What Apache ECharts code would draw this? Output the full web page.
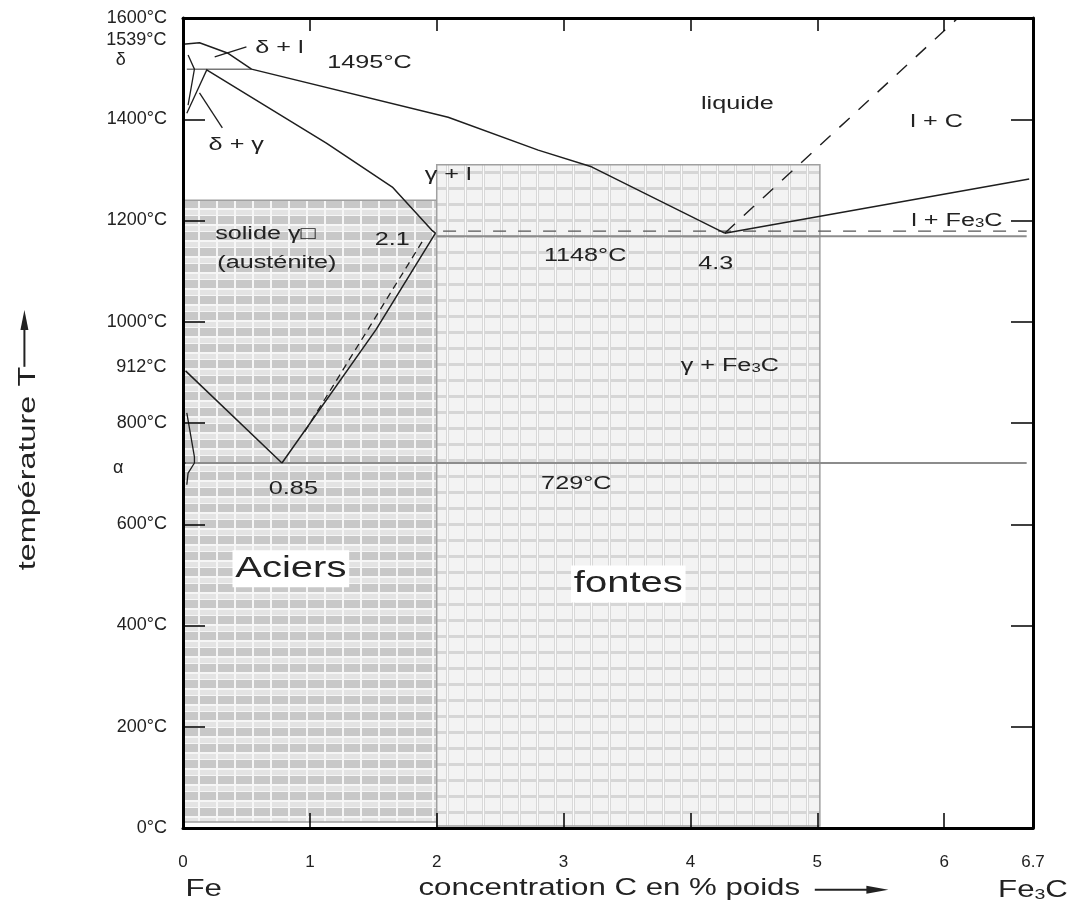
<!DOCTYPE html>
<html><head><meta charset="utf-8">
<script src="https://cdn.jsdelivr.net/npm/echarts@6/dist/echarts.min.js"></script>
<style>html,body{margin:0;padding:0;background:#fff}#c{width:1078px;height:911px}</style>
</head><body><div id="c"></div>
<script>
// ---------- data (C in wt%, T in °C) ----------
const xTicks = [0, 1, 2, 3, 4, 5, 6, 6.7];
const yTicks = [0, 200, 400, 600, 800, 1000, 1200, 1400, 1600];
const liquidus = [[0, 1548], [0.13, 1551], [0.35, 1531], [0.54, 1499], [2.09, 1404], [2.80, 1339], [3.22, 1306], [4.27, 1175]];
const solidusGamma = [[0.19, 1497], [1.13, 1353], [1.65, 1266], [1.96, 1181], [1.99, 1175]];
const acmLine = [[0.78, 721], [1.52, 984], [1.99, 1175]];
const acmGraphite = [[0.96, 783], [1.89, 1160]];
const a3Line = [[0.02, 903], [0.78, 721]];
const liquidusFe3C = [[4.27, 1175], [6.67, 1282]];
const liquidusGraphite = [[4.27, 1175], [6.10, 1598]];
const peritectic = [[0.03, 1499], [0.54, 1499]];
const eutecticLine = [[2.0, 1169], [6.65, 1169]];
const eutecticGraphite = [[2.05, 1179], [6.65, 1179]];
const eutectoidLine = [[0, 721], [6.65, 721]];
const deltaLoop = [[0.04, 1527], [0.09, 1499], [0.04, 1428]];
const gammaDelta = [[0.19, 1499], [0.03, 1412]];
const alphaCurve = [[0.03, 820], [0.09, 733], [0.09, 721], [0.04, 701], [0.03, 678]];
const ptrDelta = [[-0.35, 1501], [0, 1493]];
const ptrDeltaL = [[0.25, 1523], [0.50, 1543]];
const ptrDeltaGamma = [[0.13, 1452], [0.31, 1383]];
const ptrAlpha = [[-0.42, 711], [0.02, 721]];
const aciersRange = [[0, 12], [2.0, 1240]];
const fontesRange = [[2.0, 4], [5.02, 1310]];

// text annotations anchored in data coordinates
const annotations = [
  { text: '1495°C', c: 1.47, t: 1511 },
  { text: 'δ + l', c: 0.76, t: 1541 },
  { text: 'δ + γ', c: 0.42, t: 1349 },
  { text: 'liquide', c: 4.37, t: 1430 },
  { text: 'l + C', c: 5.94, t: 1395 },
  { text: '{n|l + Fe}{s|3}{n|C}', c: 6.10, t: 1199 },
  { text: 'γ + l', c: 2.09, t: 1290 },
  { text: '1148°C', c: 3.17, t: 1130 },
  { text: '4.3', c: 4.20, t: 1114 },
  { text: '2.1', c: 1.65, t: 1161 },
  { text: 'solide γ□', c: 0.65, t: 1173 },
  { text: '(austénite)', c: 0.74, t: 1116 },
  { text: '{n|γ + Fe}{s|3}{n|C}', c: 4.31, t: 913 },
  { text: '0.85', c: 0.87, t: 670 },
  { text: '729°C', c: 3.10, t: 680 }
];
const bigLabels = [
  { text: 'Aciers', c: 0.85, t: 512 },
  { text: 'fontes', c: 3.51, t: 482 }
];
const sideLabels = [
  { text: '1539°C', c: -0.13, t: 1557, align: 'right' },
  { text: 'δ', c: -0.49, t: 1517, align: 'center' },
  { text: '912°C', c: -0.13, t: 911, align: 'right' },
  { text: 'α', c: -0.51, t: 711, align: 'center' }
];

// ---------- styles ----------
const FONT = '"Liberation Sans", Arial, Helvetica, sans-serif';
const INK = '#222';

function makePattern(kind) {
  const cv = document.createElement('canvas');
  cv.width = 18; cv.height = 16;
  const g = cv.getContext('2d');
  if (kind === 'aciers') {
    g.fillStyle = '#f6f6f6'; g.fillRect(0, 0, 18, 16);
    g.fillStyle = '#e3e3e3'; g.fillRect(2, 2, 16, 5);
    g.fillStyle = '#c8c8c8'; g.fillRect(2, 8, 16, 8);
  } else {
    g.fillStyle = '#f3f3f3'; g.fillRect(0, 0, 18, 16);
    g.fillStyle = '#d6d6d6'; g.fillRect(0, 11, 18, 3);
    g.fillStyle = '#d8d8d8'; g.fillRect(14, 0, 3, 16);
    g.fillStyle = '#fbfbfb'; g.fillRect(15, 0, 1, 16);
  }
  return cv;
}

function lineSeries(data, opt) {
  opt = opt || {};
  return {
    type: 'line', data: data, symbol: 'none', silent: true, clip: false,
    animation: false, z: opt.z || 5,
    lineStyle: { color: opt.color || '#1e1e1e', width: opt.width || 1.5, type: opt.type || 'solid' }
  };
}

const chart = echarts.init(document.getElementById('c'), null, { renderer: 'canvas' });

const axisLineStyle = { show: true, onZero: false, lineStyle: { color: '#000', width: 3 } };
const tickStyle = { color: '#000', width: 1.5 };
const option = {
  animation: false,
  backgroundColor: '#fff',
  grid: { left: 183, right: 45, top: 18, bottom: 83 },
  xAxis: [
    { type: 'value', position: 'bottom', min: 0, max: 6.7, interval: 1, z: 10,
      axisLine: axisLineStyle, splitLine: { show: false },
      axisTick: { show: true, inside: true, length: 15, lineStyle: tickStyle },
      axisLabel: { margin: 26, fontSize: 17, fontFamily: FONT, color: INK, showMaxLabel: true, showMinLabel: true,
        formatter: function (v) { return xTicks.indexOf(+v.toFixed(1)) >= 0 ? String(+v.toFixed(1)) : ''; } } },
    { type: 'value', position: 'top', min: 0, max: 6.7, interval: 1, z: 10,
      axisLine: axisLineStyle, splitLine: { show: false },
      axisTick: { show: true, inside: true, length: 13, lineStyle: tickStyle },
      axisLabel: { show: false } }
  ],
  yAxis: [
    { type: 'value', position: 'left', min: 0, max: 1600, interval: 200, z: 10,
      axisLine: axisLineStyle, splitLine: { show: false },
      axisTick: { show: true, inside: true, length: 22, lineStyle: tickStyle },
      axisLabel: { margin: 16, fontSize: 18, fontFamily: FONT, color: INK,
        formatter: function (v) { return yTicks.indexOf(v) >= 0 ? v + '°C' : ''; } } },
    { type: 'value', position: 'right', min: 0, max: 1600, interval: 200, z: 10,
      axisLine: axisLineStyle, splitLine: { show: false },
      axisTick: { show: true, inside: true, length: 22, lineStyle: tickStyle },
      axisLabel: { show: false } }
  ],
  series: [
    {
      type: 'line', data: [], silent: true, z: 1,
      markArea: {
        silent: true,
        data: [
          [{ coord: aciersRange[0], itemStyle: { color: { image: makePattern('aciers'), repeat: 'repeat' }, borderColor: '#a0a0a0', borderWidth: 1.5 } },
           { coord: aciersRange[1] }],
          [{ coord: fontesRange[0], itemStyle: { color: { image: makePattern('fontes'), repeat: 'repeat' }, borderColor: '#a0a0a0', borderWidth: 1.5 } },
           { coord: fontesRange[1] }]
        ]
      }
    },
    lineSeries(eutectoidLine, { color: '#8c8c8c', width: 2, z: 3 }),
    lineSeries(eutecticLine, { color: '#8c8c8c', width: 2, z: 3 }),
    lineSeries(eutecticGraphite, { color: '#555', width: 1.3, type: [13, 12], z: 3 }),
    lineSeries(peritectic, { color: '#777', width: 1.5, z: 3 }),
    lineSeries(liquidus),
    lineSeries(solidusGamma),
    lineSeries(acmLine),
    lineSeries(acmGraphite, { type: [7, 5], width: 1.3 }),
    lineSeries(a3Line),
    lineSeries(liquidusFe3C),
    lineSeries(liquidusGraphite, { type: [14, 12], width: 1.4 }),
    lineSeries(deltaLoop, { width: 1.3 }),
    lineSeries(gammaDelta, { width: 1.3 }),
    lineSeries(alphaCurve, { width: 1.3 }),
    lineSeries(ptrDelta, { width: 1.3 }),
    lineSeries(ptrDeltaL, { width: 1.3 }),
    lineSeries(ptrDeltaGamma, { width: 1.3 }),
    lineSeries(ptrAlpha, { width: 1.3 })
  ]
};
chart.setOption(option);

function px(c, t) { return chart.convertToPixel({ xAxisIndex: 0, yAxisIndex: 0 }, [c, t]); }
const rich = {
  n: { fontSize: 18, fontFamily: FONT, color: INK },
  s: { fontSize: 12, fontFamily: FONT, color: INK, verticalAlign: 'bottom' }
};
function textEl(a, size, sx, extra) {
  const p = px(a.c, a.t);
  return {
    type: 'text', x: p[0], y: p[1], scaleX: sx, z: 100, silent: true,
    style: Object.assign({
      text: a.text, font: size + 'px ' + FONT, fill: INK,
      align: a.align || 'center', verticalAlign: 'middle',
      textAlign: a.align || 'center', textVerticalAlign: 'middle', rich: rich
    }, extra || {})
  };
}
const gfx = [];
annotations.forEach(a => gfx.push(textEl(a, 18, 1.4)));
bigLabels.forEach(a => gfx.push(textEl(a, 29, 1.38, { backgroundColor: '#fff', padding: [4, 2, 4, 2] })));
sideLabels.forEach(a => gfx.push(textEl(a, 18, 1.0)));

// axis names
const xName = px(3.36, -120);
gfx.push({ type: 'text', x: xName[0], y: xName[1], scaleX: 1.3, z: 100, silent: true,
  style: { text: 'concentration C en % poids', font: '24px ' + FONT, fill: INK, align: 'center', verticalAlign: 'middle' } });
const a0 = px(4.98, -122), a1 = px(5.56, -122);
gfx.push({ type: 'line', z: 100, silent: true, shape: { x1: a0[0], y1: a0[1], x2: a1[0] - 16, y2: a1[1] }, style: { stroke: INK, lineWidth: 2 } });
gfx.push({ type: 'polygon', z: 100, silent: true, shape: { points: [[a1[0] - 22, a1[1] - 4], [a1[0], a1[1]], [a1[0] - 22, a1[1] + 4]] }, style: { fill: INK } });
const fe = px(0.02, -122);
gfx.push({ type: 'text', x: fe[0], y: fe[1], scaleX: 1.3, z: 100, silent: true,
  style: { text: 'Fe', font: '24px ' + FONT, fill: INK, align: 'left', verticalAlign: 'middle' } });
const fe3c = px(6.70, -124);
gfx.push({ type: 'text', x: fe3c[0], y: fe3c[1], scaleX: 1.3, z: 100, silent: true,
  style: { text: '{n|Fe}{s|3}{n|C}', fill: INK, align: 'center', verticalAlign: 'middle',
    rich: { n: { fontSize: 24, fontFamily: FONT, color: INK }, s: { fontSize: 15, fontFamily: FONT, color: INK, verticalAlign: 'bottom' } } } });
const yName = px(-1.22, 710);
gfx.push({ type: 'text', x: yName[0], y: yName[1], rotation: Math.PI / 2, scaleX: 1.35, z: 100, silent: true,
  style: { text: 'température T', font: '24px ' + FONT, fill: INK, align: 'center', verticalAlign: 'middle' } });
const b0 = px(-1.25, 911), b1 = px(-1.25, 1023);
gfx.push({ type: 'line', z: 100, silent: true, shape: { x1: b0[0], y1: b0[1], x2: b1[0], y2: b1[1] + 16 }, style: { stroke: INK, lineWidth: 2 } });
gfx.push({ type: 'polygon', z: 100, silent: true, shape: { points: [[b1[0] - 4, b1[1] + 20], [b1[0], b1[1]], [b1[0] + 4, b1[1] + 20]] }, style: { fill: INK } });

chart.setOption({ graphic: { elements: gfx } });
</script>
</body></html>
